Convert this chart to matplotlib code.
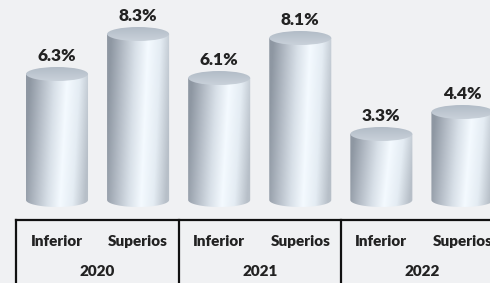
import numpy as np
import matplotlib
matplotlib.use("Agg")
import matplotlib.pyplot as plt
from matplotlib.path import Path
from matplotlib.patches import Ellipse, PathPatch
from matplotlib.colors import LinearSegmentedColormap

years = ["2020", "2021", "2022"]
levels = ["Inferior", "Superios"]
values = [6.3, 8.3, 6.1, 8.1, 3.3, 4.4]

plt.rcParams['font.family'] = ['Lato', 'DejaVu Sans']
bg = '#f0f1f3'

fig = plt.figure(figsize=(4.9, 2.83), dpi=100, facecolor=bg)
ax = fig.add_axes([0, 0, 1, 1])
ax.set_facecolor(bg)
ax.set_xlim(-0.703, 5.34)
ax.set_ylim(-4.15, 10)
ax.axis('off')

w = 0.765   # cylinder width in category units
eh = 0.35   # half height of the ellipses in value units

body_cmap = LinearSegmentedColormap.from_list(
    'body', ['#8e97a2', '#b4bcc6', '#d8e0e8', '#f4faff', '#e4ecf3', '#b7bfc8'],
)
top_cmap = LinearSegmentedColormap.from_list('top', ['#c9d1da', '#b2bcc7'])

def cylinder(x, v):
    x0, x1 = x - w / 2, x + w / 2
    # body: rectangle + lower half ellipse
    t = np.linspace(np.pi, 2 * np.pi, 40)
    bx = x + w / 2 * np.cos(t)
    by = eh * np.sin(t)
    verts = [(x0, v)] + list(zip(bx, by)) + [(x1, v), (x0, v)]
    codes = [Path.MOVETO] + [Path.LINETO] * (len(verts) - 2) + [Path.CLOSEPOLY]
    clip = PathPatch(Path(verts, codes), facecolor='none', edgecolor='none')
    ax.add_patch(clip)
    gx = np.linspace(0, 1, 120)
    gy = np.linspace(0, 1, 60)[:, None]
    # highlight drifts slightly with height
    prof = gx[None, :] - 0.12 * (gy - 0.5)
    img = ax.imshow(prof, cmap=body_cmap, vmin=0, vmax=1, aspect='auto',
                    extent=[x0, x1, -eh, v], origin='lower', zorder=2,
                    interpolation='bilinear')
    img.set_clip_path(clip)
    # top ellipse
    top = Ellipse((x, v), w, 2 * eh, facecolor='none', edgecolor='none')
    ax.add_patch(top)
    ty = np.linspace(0, 1, 30)[:, None] * np.ones((1, 30))
    timg = ax.imshow(ty, cmap=top_cmap, vmin=0, vmax=1, aspect='auto',
                     extent=[x0, x1, v - eh, v + eh], origin='lower', zorder=3,
                     interpolation='bilinear')
    timg.set_clip_path(top)
    ax.annotate(f"{v:.1f}%", (x, v + eh), xytext=(0, 2), textcoords='offset points',
                ha='center', va='bottom', fontsize=12.5, fontweight='heavy',
                color='#222222', zorder=4)

for i, v in enumerate(values):
    cylinder(i, v)

# table-style category axis
ax.plot([-0.5, 5.34], [-1.0, -1.0], color='#111111', lw=1.6, zorder=5)
for gx_ in [-0.5, 1.5, 3.5]:
    ax.plot([gx_, gx_], [-1.0, -4.15], color='#111111', lw=1.6, zorder=5)
for i in range(len(values)):
    ax.text(i, -2.05, levels[i % 2], ha='center', va='center', fontsize=11,
            fontweight='heavy', color='#222222')
for j, y in enumerate(years):
    ax.text(2 * j + 0.5, -3.55, y, ha='center', va='center', fontsize=11,
            fontweight='heavy', color='#222222')

fig.savefig('out.png', dpi=100, facecolor=bg)
